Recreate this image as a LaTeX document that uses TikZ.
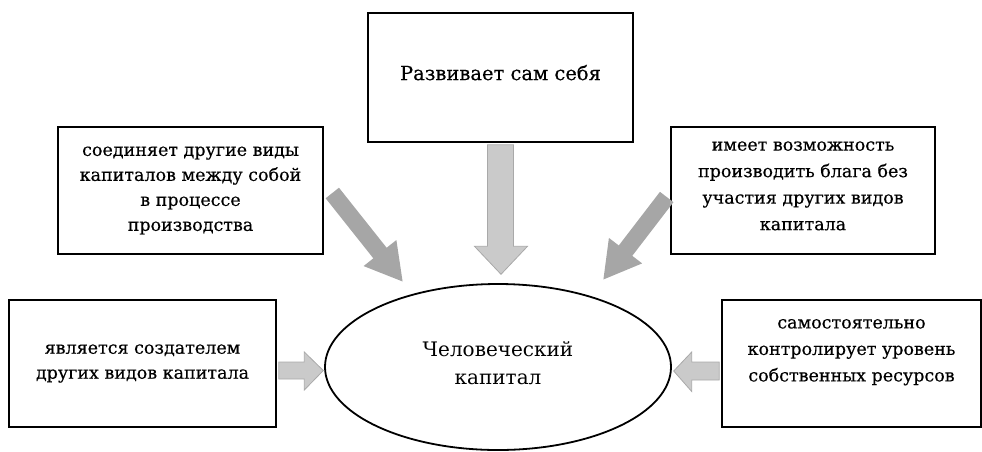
\documentclass[tikz,border=0pt]{standalone}
\usepackage{fontspec}
\setmainfont{DejaVu Serif}
\newfontfamily\boxfont[FakeBold=0.4]{DejaVu Serif}
\usetikzlibrary{arrows.meta,calc,shapes.geometric}
\definecolor{arrowdark}{HTML}{A6A6A6}
\definecolor{arrowlight}{HTML}{CACACA}
\definecolor{arrowedge}{HTML}{A9A9A9}
\begin{document}
\begin{tikzpicture}[x=1pt,y=-1pt,
  box/.style={draw=black, line width=2.6pt, fill=white, align=center,
    inner sep=0pt, font=\boxfont\fontsize{17.5}{25}\selectfont},
  core/.style={draw=black, line width=1.8pt, ellipse, align=center,
    inner sep=0pt, font=\fontsize{20}{28}\selectfont},
  flatarrow/.style={fill=arrowlight, draw=arrowedge, line width=0.8pt, line join=miter},
  slantarrow/.style={draw=arrowdark, line width=17pt,
    -{Triangle[length=37pt,width=39pt]}}
]
\useasboundingbox (0,0) rectangle (982,451);

% boxes around the central ellipse
\node[box, minimum width=265pt, minimum height=129pt,
  font=\boxfont\fontsize{19.5}{25}\selectfont] (top) at (500.5,77.5)
  {Развивает сам себя\\[-15pt]\mbox{}};
\node[box, minimum width=265pt, minimum height=127pt] (ul) at (190.5,190.5)
  {соединяет другие виды\\капиталов между собой\\в процессе\\производства};
\node[box, minimum width=264pt, minimum height=127pt,
  font=\boxfont\fontsize{17.5}{26.5}\selectfont] (ur) at (803,190.5)
  {имеет возможность\\производить блага без\\участия других видов\\капитала\\[-17pt]\mbox{}};
\node[box, minimum width=267pt, minimum height=127pt] (ll) at (142.5,363.5)
  {является создателем\\других видов капитала};
\node[box, minimum width=259pt, minimum height=127pt,
  font=\boxfont\fontsize{17.5}{26.5}\selectfont] (lr) at (851.5,363.5)
  {самостоятельно\\контролирует уровень\\собственных ресурсов\\ };

% central ellipse
\node[core, minimum width=346pt, minimum height=166pt] (hc) at (498,367)
  {Человеческий\\капитал\\[-20pt]\mbox{}};

% vertical block arrow from the top box
\filldraw[flatarrow]
  ($(top.south)+(-13,1.5)$) -- ($(top.south)+(-13,103)$) --
  ($(top.south)+(-26,103)$) -- ($(top.south)+(0.5,131)$) --
  ($(top.south)+(27,103)$) -- ($(top.south)+(13,103)$) --
  ($(top.south)+(13,1.5)$) -- cycle;

% horizontal block arrow from the lower left box
\filldraw[flatarrow]
  ($(ll.east)+(1.5,-1.5)$) -- ($(ll.east)+(27,-1.5)$) --
  ($(ll.east)+(27,-11.5)$) -- ($(ll.east)+(46,7)$) --
  ($(ll.east)+(27,26.5)$) -- ($(ll.east)+(27,15.5)$) --
  ($(ll.east)+(1.5,15.5)$) -- cycle;

% horizontal block arrow from the lower right box
\filldraw[flatarrow]
  ($(lr.west)+(-1.5,-1.5)$) -- ($(lr.west)+(-29,-1.5)$) --
  ($(lr.west)+(-29,-11.5)$) -- ($(lr.west)+(-47,7.5)$) --
  ($(lr.west)+(-29,28)$) -- ($(lr.west)+(-29,16.5)$) --
  ($(lr.west)+(-1.5,16.5)$) -- cycle;

% slanted arrows from the upper boxes
\coordinate (ulstart) at ($(ul.east)+(8,2.5)$);
\coordinate (ulend) at ($(hc.center)+(-95,-85)$);
\coordinate (urstart) at ($(ur.west)+(-3,6.5)$);
\coordinate (urend) at ($(hc.center)+(105,-87)$);
\draw[slantarrow] (ulstart) -- (ulend);
\draw[slantarrow] (urstart) -- (urend);
\end{tikzpicture}
\end{document}
